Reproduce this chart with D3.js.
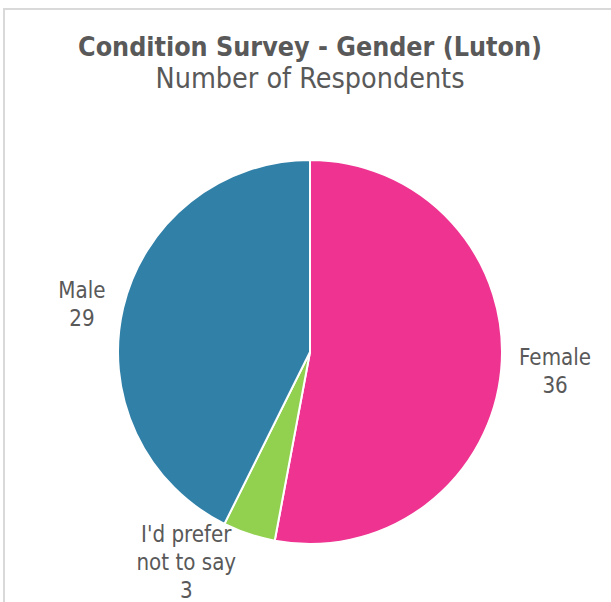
<!DOCTYPE html>
<html>
<head>
<meta charset="utf-8">
<script src="https://cdn.jsdelivr.net/npm/d3@7"></script>
<style>
  html, body { margin: 0; padding: 0; background: #fff; }
  svg { display: block; }
</style>
</head>
<body>
<svg id="chart"></svg>
<script>
// chart data
const categories = ["Female", "I'd prefer not to say", "Male"];
const values = [36, 3, 29];
const sliceColors = ["#EE3390", "#92D050", "#3180A8"];
const titleText = "Condition Survey - Gender (Luton)";
const subtitleText = "Number of Respondents";

const config = {
  width: 611,
  height: 602,
  cx: 310,
  cy: 352,
  radius: 192,
  labelGap: 18,
  lineHeight: 28,
  textColor: "#595959",
  font: "'DejaVu Sans Condensed', 'DejaVu Sans', sans-serif",
};

// small hand nudges, excel moves the tiny slice label out of the way
const labelNudge = { "I'd prefer not to say": [-7, 11] };

const svg = d3
  .select("#chart")
  .attr("width", config.width)
  .attr("height", config.height);

// light frame at top / left like the cropped excel chart
svg.append("line")
  .attr("x1", 3).attr("x2", config.width)
  .attr("y1", 9).attr("y2", 9)
  .attr("stroke", "#d9d9d9").attr("stroke-width", 2);
svg.append("line")
  .attr("x1", 4).attr("x2", 4)
  .attr("y1", 9).attr("y2", config.height)
  .attr("stroke", "#d9d9d9").attr("stroke-width", 2);

// scale a text node's font size so it spans the given width
function fitWidth(sel, target) {
  const w = sel.node().getComputedTextLength();
  const fs = parseFloat(sel.attr("font-size"));
  sel.attr("font-size", (fs * target) / w);
  return (fs * target) / w;
}

const title = svg.append("text")
  .attr("x", config.cx)
  .attr("y", 56)
  .attr("text-anchor", "middle")
  .attr("font-family", config.font)
  .attr("font-weight", "bold")
  .attr("font-size", 22)
  .attr("fill", config.textColor)
  .text(titleText);
fitWidth(title, 464);

const subtitle = svg.append("text")
  .attr("x", config.cx)
  .attr("y", 88)
  .attr("text-anchor", "middle")
  .attr("font-family", config.font)
  .attr("font-size", 22)
  .attr("fill", config.textColor)
  .text(subtitleText);
fitWidth(subtitle, 309);

const data = categories.map((c, i) => ({ category: c, value: values[i], color: sliceColors[i] }));

const pie = d3.pie().sort(null).value((d) => d.value);
const arc = d3.arc().innerRadius(0).outerRadius(config.radius);
const arcs = pie(data);

const chartArea = svg.append("g")
  .attr("transform", `translate(${config.cx},${config.cy})`);

chartArea.selectAll(".slice")
  .data(arcs)
  .join("path")
  .attr("class", "slice")
  .attr("d", arc)
  .attr("fill", (d) => d.data.color)
  .attr("stroke", "#fff")
  .attr("stroke-width", 2);

// wrap category names into short lines
function wrap(text, maxChars) {
  const lines = [];
  let cur = "";
  text.split(" ").forEach((w) => {
    if (cur && (cur + " " + w).length > maxChars) {
      lines.push(cur);
      cur = w;
    } else {
      cur = cur ? cur + " " + w : w;
    }
  });
  lines.push(cur);
  return lines;
}

// label font: fit "Female" to its width in the picture, reuse for all
const probe = svg.append("text")
  .attr("font-family", config.font)
  .attr("font-size", 20)
  .text("Female");
const labelSize = fitWidth(probe, 72);
probe.remove();

arcs.forEach((d) => {
  const lines = wrap(d.data.category, 10).concat([String(d.data.value)]);
  const mid = (d.startAngle + d.endAngle) / 2;
  const r = config.radius + config.labelGap;
  const ax = Math.sin(mid) * r;
  const ay = -Math.cos(mid) * r;

  const label = chartArea.append("text")
    .attr("class", "slice-label")
    .attr("text-anchor", "middle")
    .attr("font-family", config.font)
    .attr("font-size", labelSize)
    .attr("fill", config.textColor);

  lines.forEach((t, i) => {
    label.append("tspan")
      .attr("x", 0)
      .attr("y", i * config.lineHeight)
      .text(t);
  });

  const bb = label.node().getBBox();
  const boxW = bb.width;
  const cap = labelSize * 0.73;
  const nudge = labelNudge[d.data.category] || [0, 0];
  const bx = ax + Math.sign(Math.sin(mid)) * boxW / 2 + nudge[0];
  const by = ay + nudge[1];
  const firstBase = by - (config.lineHeight * (lines.length - 1)) / 2 + cap / 2;

  label.attr("transform", `translate(${bx},${firstBase})`);
});
</script>
</body>
</html>
